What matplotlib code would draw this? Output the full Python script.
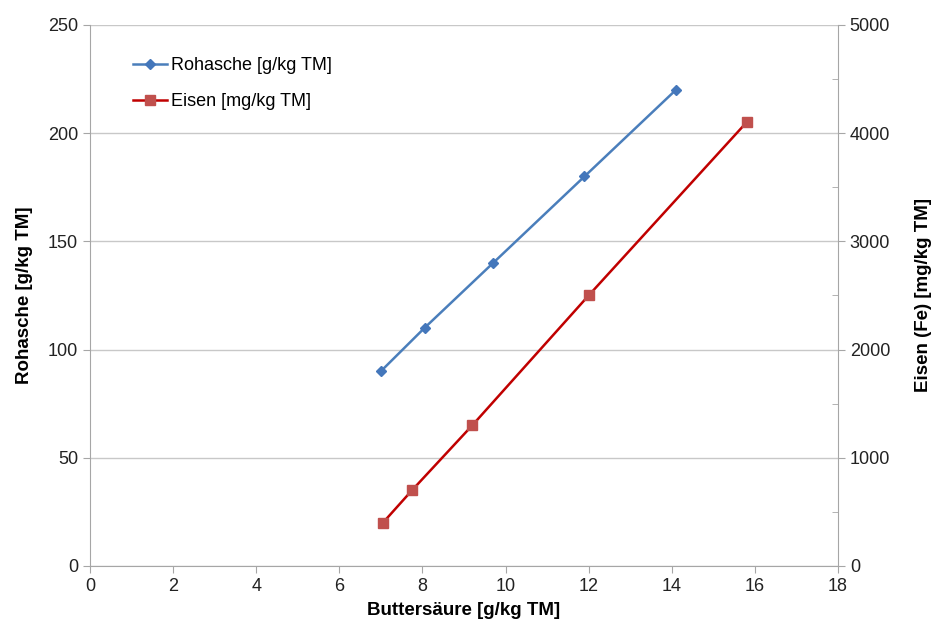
import matplotlib
matplotlib.use("Agg")
import matplotlib.pyplot as plt
from matplotlib.ticker import MultipleLocator

plt.rcParams["font.family"] = ["Liberation Sans", "DejaVu Sans"]

# Buttersäure vs Rohasche
ash_x = [7.0, 8.05, 9.7, 11.9, 14.1]
ash_y = [90, 110, 140, 180, 220]

# Buttersäure vs Eisen
fe_x = [7.05, 7.75, 9.2, 12.0, 15.8]
fe_y = [400, 700, 1300, 2500, 4100]

grid_col = "#c8c8c8"
spine_col = "#a6a6a6"
fs = 13

fig = plt.figure(figsize=(9.32, 6.24), dpi=100)
ax = fig.add_axes([0.0966, 0.093, 0.8025, 0.867])
ax2 = ax.twinx()

l1, = ax.plot(ash_x, ash_y, color="#4a7ebb", lw=1.8, marker="D", ms=5.5,
              mfc="#4477bb", mec="#4477bb", label="Rohasche [g/kg TM]")
l2, = ax2.plot(fe_x, fe_y, color="#c00000", lw=1.8, marker="s", ms=7,
               mfc="#c0504d", mec="#c0504d", label="Eisen [mg/kg TM]")

ax.set_xlim(0, 18)
ax.set_ylim(0, 250)
ax2.set_ylim(0, 5000)
ax.xaxis.set_major_locator(MultipleLocator(2))
ax.yaxis.set_major_locator(MultipleLocator(50))
ax2.yaxis.set_major_locator(MultipleLocator(1000))
ax2.yaxis.set_minor_locator(MultipleLocator(500))

ax.grid(axis="y", color=grid_col, lw=1)
ax.set_axisbelow(True)

for a in (ax, ax2):
    for s in a.spines.values():
        s.set_color(spine_col)
    a.spines["top"].set_visible(False)
ax.spines["right"].set_visible(False)
ax2.spines["left"].set_visible(False)
ax2.spines["bottom"].set_visible(False)

ax.tick_params(axis="both", which="major", length=5, color=spine_col,
               labelsize=fs, labelcolor="#222222")
ax2.tick_params(axis="y", which="major", length=5, color=spine_col,
                labelsize=fs, labelcolor="#222222")
ax2.tick_params(axis="y", which="minor", direction="in", length=4, color=spine_col)

ax.set_xlabel("Buttersäure [g/kg TM]", fontsize=13.5, fontweight="bold", labelpad=5)
ax.set_ylabel("Rohasche [g/kg TM]", fontsize=13.5, fontweight="bold", labelpad=11)
ax2.set_ylabel("Eisen (Fe) [mg/kg TM]", fontsize=13.5, fontweight="bold", labelpad=18,
               rotation=90)

ax.legend([l1, l2], [l1.get_label(), l2.get_label()], loc="upper left",
          bbox_to_anchor=(0.0575, 0.9405), frameon=False, fontsize=fs,
          borderpad=0, borderaxespad=0,
          handlelength=1.9, handletextpad=0.2, labelspacing=1.05)

fig.savefig("out.png", dpi=100)
